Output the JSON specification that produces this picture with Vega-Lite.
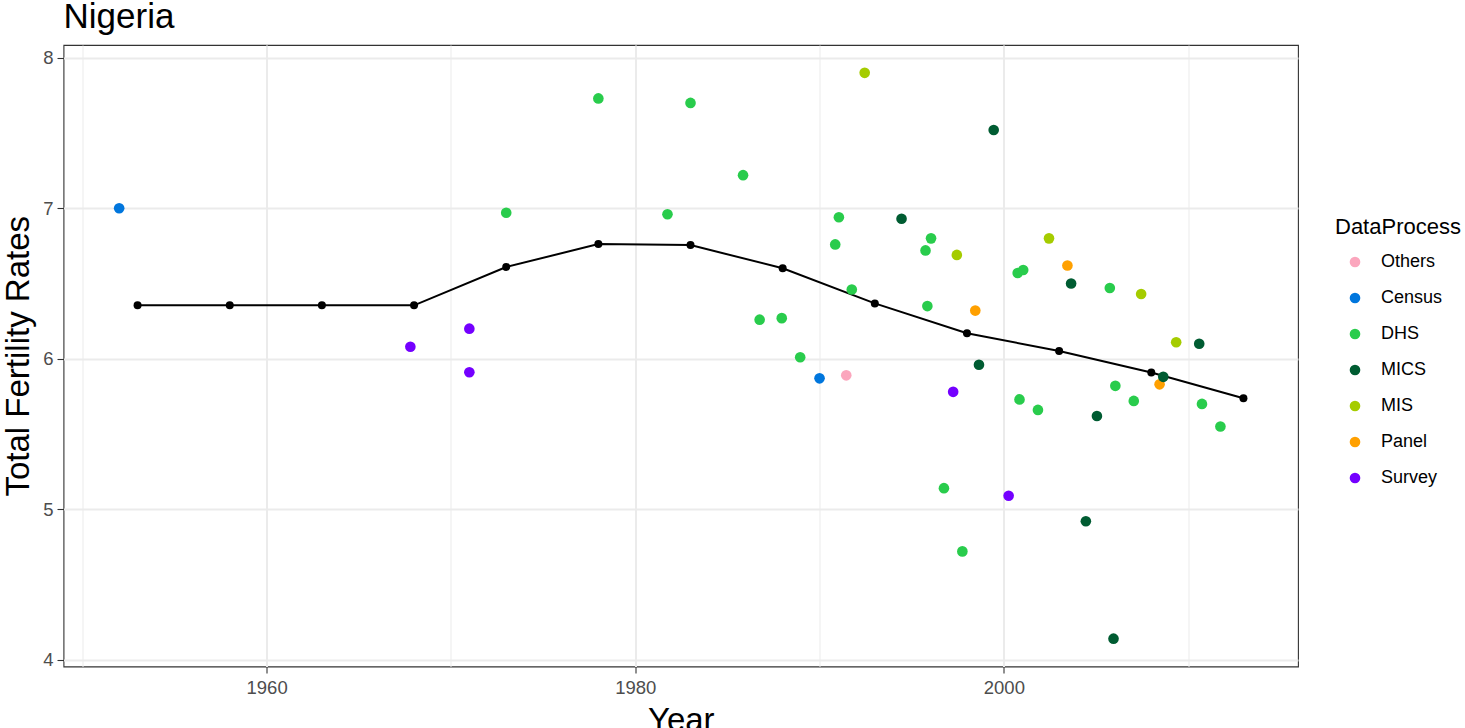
{
  "$schema": "https://vega.github.io/schema/vega-lite/v6.json",
  "width": 1234.5,
  "height": 621.5,
  "autosize": {"type": "none"},
  "padding": {"left": 63.5, "top": 45, "right": 167, "bottom": 61.5},
  "background": "white",
  "title": {
    "text": "Nigeria",
    "anchor": "start",
    "frame": "group",
    "font": "Liberation Sans",
    "fontSize": 35,
    "fontWeight": "normal",
    "color": "black",
    "baseline": "bottom",
    "offset": -25
  },
  "config": {
    "view": {"stroke": "#333333", "strokeWidth": 1.1},
    "font": "Liberation Sans"
  },
  "datasets": {
    "obs": [
      {"year": 1952.0, "tfr": 7.00, "process": "Census"},
      {"year": 1990.0, "tfr": 5.87, "process": "Census"},
      {"year": 1991.45, "tfr": 5.89, "process": " Others"},
      {"year": 1967.8, "tfr": 6.08, "process": "Survey"},
      {"year": 1971.0, "tfr": 6.20, "process": "Survey"},
      {"year": 1971.0, "tfr": 5.91, "process": "Survey"},
      {"year": 1997.25, "tfr": 5.78, "process": "Survey"},
      {"year": 2000.26, "tfr": 5.09, "process": "Survey"},
      {"year": 1992.45, "tfr": 7.90, "process": "MIS"},
      {"year": 1997.45, "tfr": 6.69, "process": "MIS"},
      {"year": 2002.45, "tfr": 6.80, "process": "MIS"},
      {"year": 2007.45, "tfr": 6.43, "process": "MIS"},
      {"year": 2009.35, "tfr": 6.11, "process": "MIS"},
      {"year": 1998.45, "tfr": 6.32, "process": "Panel"},
      {"year": 2003.45, "tfr": 6.62, "process": "Panel"},
      {"year": 2008.45, "tfr": 5.83, "process": "Panel"},
      {"year": 1994.45, "tfr": 6.93, "process": "MICS"},
      {"year": 1999.45, "tfr": 7.52, "process": "MICS"},
      {"year": 1998.65, "tfr": 5.96, "process": "MICS"},
      {"year": 2003.65, "tfr": 6.50, "process": "MICS"},
      {"year": 2005.05, "tfr": 5.62, "process": "MICS"},
      {"year": 2004.45, "tfr": 4.92, "process": "MICS"},
      {"year": 2005.95, "tfr": 4.14, "process": "MICS"},
      {"year": 2008.65, "tfr": 5.88, "process": "MICS"},
      {"year": 2010.6, "tfr": 6.10, "process": "MICS"},
      {"year": 1973.0, "tfr": 6.97, "process": "DHS"},
      {"year": 1978.0, "tfr": 7.73, "process": "DHS"},
      {"year": 1983.0, "tfr": 7.70, "process": "DHS"},
      {"year": 1985.85, "tfr": 7.22, "process": "DHS"},
      {"year": 1981.75, "tfr": 6.96, "process": "DHS"},
      {"year": 1991.05, "tfr": 6.94, "process": "DHS"},
      {"year": 1990.85, "tfr": 6.76, "process": "DHS"},
      {"year": 1996.05, "tfr": 6.80, "process": "DHS"},
      {"year": 1995.75, "tfr": 6.72, "process": "DHS"},
      {"year": 1991.75, "tfr": 6.46, "process": "DHS"},
      {"year": 1995.85, "tfr": 6.35, "process": "DHS"},
      {"year": 1986.75, "tfr": 6.26, "process": "DHS"},
      {"year": 1987.95, "tfr": 6.27, "process": "DHS"},
      {"year": 1988.95, "tfr": 6.01, "process": "DHS"},
      {"year": 1996.75, "tfr": 5.14, "process": "DHS"},
      {"year": 1997.75, "tfr": 4.72, "process": "DHS"},
      {"year": 2000.85, "tfr": 5.73, "process": "DHS"},
      {"year": 2001.85, "tfr": 5.66, "process": "DHS"},
      {"year": 2000.75, "tfr": 6.57, "process": "DHS"},
      {"year": 2001.05, "tfr": 6.59, "process": "DHS"},
      {"year": 2005.75, "tfr": 6.47, "process": "DHS"},
      {"year": 2006.05, "tfr": 5.82, "process": "DHS"},
      {"year": 2007.05, "tfr": 5.72, "process": "DHS"},
      {"year": 2010.75, "tfr": 5.70, "process": "DHS"},
      {"year": 2011.75, "tfr": 5.55, "process": "DHS"}
    ],
    "fit": [
      {"year": 1953, "tfr": 6.355},
      {"year": 1958, "tfr": 6.355},
      {"year": 1963, "tfr": 6.355},
      {"year": 1968, "tfr": 6.355},
      {"year": 1973, "tfr": 6.61},
      {"year": 1978, "tfr": 6.762},
      {"year": 1983, "tfr": 6.756},
      {"year": 1988, "tfr": 6.601},
      {"year": 1993, "tfr": 6.368},
      {"year": 1998, "tfr": 6.17},
      {"year": 2003, "tfr": 6.051},
      {"year": 2008, "tfr": 5.909},
      {"year": 2013, "tfr": 5.738}
    ]
  },
  "encoding": {
    "x": {
      "field": "year",
      "type": "quantitative",
      "scale": {"domain": [1948.98, 2015.96], "nice": false, "zero": false},
      "axis": {
        "title": "Year",
        "titleFont": "Liberation Sans",
        "titleFontSize": 33,
        "titleFontWeight": "normal",
        "titleColor": "black",
        "titlePadding": 7.5,
        "values": [1950, 1960, 1970, 1980, 1990, 2000, 2010],
        "labelExpr": "datum.value % 20 == 0 ? datum.label : ''",
        "format": "d",
        "labelFont": "Liberation Sans",
        "labelFontSize": 18.5,
        "labelColor": "#4D4D4D",
        "labelPadding": 5.3,
        "domain": false,
        "ticks": true,
        "tickSize": 6.5,
        "tickColor": "#333333",
        "tickWidth": 1.1,
        "tickOpacity": {"condition": {"test": "datum.value % 20 == 0", "value": 1}, "value": 0},
        "grid": true,
        "gridColor": "#EBEBEB",
        "gridWidth": {"condition": {"test": "datum.value % 20 == 0", "value": 2}, "value": 1}
      }
    },
    "y": {
      "field": "tfr",
      "type": "quantitative",
      "scale": {"domain": [3.955, 8.085], "nice": false, "zero": false},
      "axis": {
        "title": "Total Fertility Rates",
        "titleFont": "Liberation Sans",
        "titleFontSize": 33,
        "titleFontWeight": "normal",
        "titleColor": "black",
        "titlePadding": 7,
        "values": [4, 4.5, 5, 5.5, 6, 6.5, 7, 7.5, 8],
        "labelExpr": "datum.value % 1 == 0 ? datum.label : ''",
        "format": "d",
        "labelFont": "Liberation Sans",
        "labelFontSize": 18.5,
        "labelColor": "#4D4D4D",
        "labelPadding": 4,
        "domain": false,
        "ticks": true,
        "tickSize": 6.5,
        "tickColor": "#333333",
        "tickWidth": 1.1,
        "tickOpacity": {"condition": {"test": "datum.value % 1 == 0", "value": 1}, "value": 0},
        "grid": true,
        "gridColor": "#EBEBEB",
        "gridWidth": {"condition": {"test": "datum.value % 1 == 0", "value": 2}, "value": 1}
      }
    }
  },
  "layer": [
    {
      "data": {"name": "fit"},
      "mark": {"type": "line", "color": "black", "strokeWidth": 2},
      "encoding": {}
    },
    {
      "data": {"name": "fit"},
      "mark": {"type": "circle", "color": "black", "opacity": 1, "size": 64},
      "encoding": {}
    },
    {
      "data": {"name": "obs"},
      "mark": {"type": "circle", "opacity": 1, "size": 113},
      "encoding": {
        "color": {
          "field": "process",
          "type": "nominal",
          "scale": {
            "domain": [" Others", "Census", "DHS", "MICS", "MIS", "Panel", "Survey"],
            "range": ["#FBA6BD", "#0076DD", "#29CC4C", "#005C32", "#A5CC00", "#FFA000", "#7400FF"]
          },
          "legend": {
            "title": "DataProcess",
            "orient": "none",
            "legendX": 1271.5,
            "legendY": 172,
            "titleFont": "Liberation Sans",
            "titleFontSize": 22,
            "titleFontWeight": "normal",
            "titleColor": "black",
            "titlePadding": 14,
            "labelFont": "Liberation Sans",
            "labelFontSize": 18,
            "labelColor": "black",
            "labelOffset": 17,
            "symbolType": "circle",
            "symbolSize": 113,
            "symbolStrokeWidth": 0,
            "symbolOpacity": 1,
            "symbolOffset": 11,
            "rowPadding": 18
          }
        }
      }
    }
  ]
}
